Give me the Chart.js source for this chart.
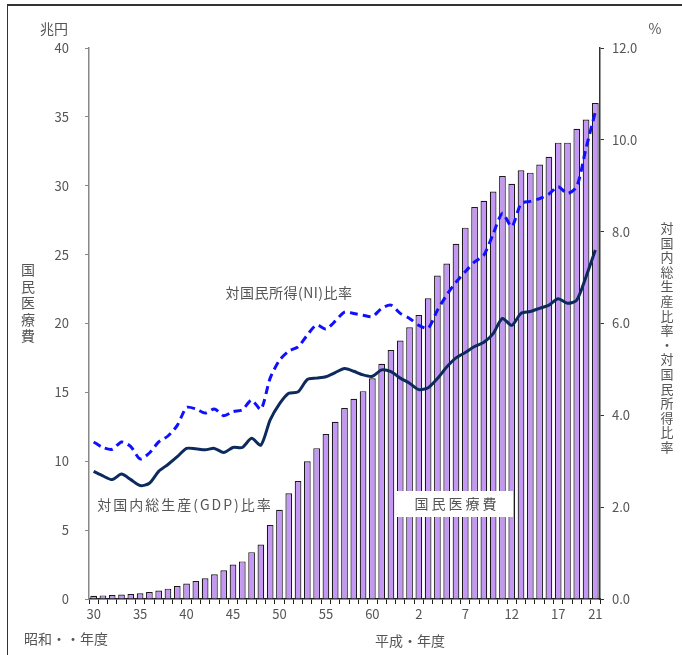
<!DOCTYPE html>
<html lang="ja">
<head>
<meta charset="utf-8">
<script src="https://cdn.jsdelivr.net/npm/chart.js@4.4.0/dist/chart.umd.min.js"></script>
<style>
  body { margin: 0; background: #fff; }
  #wrap { position: relative; width: 682px; height: 655px; }
  #frame { position: absolute; left: 7px; top: 4px; width: 700px; height: 700px;
           border-top: 2px solid #333; border-left: 1px solid #333; }
  canvas { position: absolute; left: 0; top: 0; }
</style>
</head>
<body>
<div id="wrap">
  <div id="frame"></div>
  <canvas id="chart-iryohi" width="682" height="655"></canvas>
</div>
<script>
// 年度: 昭和30〜63, 平成1〜21
var years = [];
for (var s = 30; s <= 63; s++) years.push(String(s));
for (var h = 1; h <= 21; h++) years.push(String(h));

var shownYears = ["30", "35", "40", "45", "50", "55", "60", "2", "7", "12", "17", "21"];

// 国民医療費 (兆円)
var iryohi = [0.24, 0.26, 0.29, 0.32, 0.36, 0.41, 0.51, 0.61, 0.75, 0.94,
  1.12, 1.30, 1.51, 1.80, 2.08, 2.50, 2.73, 3.40, 3.95, 5.38,
  6.48, 7.67, 8.57, 10.00, 10.95, 11.98, 12.87, 13.87, 14.54, 15.09,
  16.02, 17.07, 18.08, 18.76, 19.73, 20.61, 21.83, 23.48, 24.36, 25.79,
  26.96, 28.45, 28.91, 29.58, 30.70, 30.14, 31.12, 30.95, 31.54, 32.11,
  33.13, 33.13, 34.14, 34.81, 36.01];

// 対国民所得(NI)比率 (%)
var niRatio = [3.42, 3.30, 3.26, 3.42, 3.32, 3.05, 3.18, 3.42, 3.55, 3.78,
  4.17, 4.14, 4.05, 4.14, 3.99, 4.08, 4.12, 4.33, 4.13, 4.81,
  5.20, 5.40, 5.49, 5.75, 5.97, 5.88, 6.05, 6.25, 6.22, 6.18,
  6.15, 6.33, 6.40, 6.22, 6.11, 5.96, 5.90, 6.29, 6.62, 6.90,
  7.13, 7.34, 7.49, 7.95, 8.40, 8.11, 8.61, 8.66, 8.72, 8.82,
  8.98, 8.83, 8.98, 9.82, 10.61];

// 対国内総生産(GDP)比率 (%)
var gdpRatio = [2.78, 2.68, 2.60, 2.72, 2.60, 2.47, 2.52, 2.78, 2.93, 3.10,
  3.28, 3.27, 3.25, 3.28, 3.19, 3.30, 3.30, 3.50, 3.35, 3.90,
  4.25, 4.48, 4.51, 4.78, 4.81, 4.84, 4.93, 5.02, 4.96, 4.88,
  4.85, 4.99, 4.95, 4.81, 4.70, 4.56, 4.60, 4.80, 5.05, 5.25,
  5.37, 5.50, 5.59, 5.78, 6.11, 5.96, 6.22, 6.26, 6.33, 6.40,
  6.54, 6.44, 6.51, 7.02, 7.60];

var jpFont = "'Noto Sans CJK JP', 'Noto Sans', sans-serif";
var textGrey = "#555";

function vText(ctx, str, x, y, step) {
  for (var i = 0; i < str.length; i++) {
    ctx.fillText(str[i], x, y + i * step);
  }
}

var labelsPlugin = {
  id: "labels",
  afterDatasetsDraw: function (chart) {
    var ctx = chart.ctx;
    ctx.save();
    // white box for 国民医療費
    ctx.fillStyle = "#fff";
    ctx.fillRect(397, 491, 116, 26);
    ctx.fillStyle = textGrey;
    ctx.textAlign = "center";
    ctx.textBaseline = "middle";
    ctx.font = "14px " + jpFont;
    ctx.letterSpacing = "3px";
    ctx.fillText("国民医療費", 457, 504);
    ctx.letterSpacing = "0.5px";
    ctx.fillText("対国民所得(NI)比率", 289, 293);
    ctx.letterSpacing = "2px";
    ctx.fillText("対国内総生産(GDP)比率", 185, 505);
    ctx.restore();
  },
  afterDraw: function (chart) {
    var ctx = chart.ctx;
    ctx.save();
    ctx.fillStyle = textGrey;
    ctx.textAlign = "center";
    ctx.textBaseline = "middle";
    ctx.font = "14px " + jpFont;
    ctx.fillText("兆円", 54, 29);
    ctx.fillText("%", 655, 29);
    vText(ctx, "国民医療費", 28, 270, 16.5);
    ctx.font = "13px " + jpFont;
    vText(ctx, "対国内総生産比率・対国民所得比率", 667, 228, 14.6);
    ctx.font = "14px " + jpFont;
    ctx.textAlign = "left";
    ctx.fillText("昭和・・年度", 24, 639);
    ctx.fillText("平成・年度", 375, 641);
    ctx.restore();
  }
};

new Chart("chart-iryohi", {
  type: "bar",
  data: {
    labels: years,
    datasets: [{
      type: "line",
      label: "対国民所得(NI)比率",
      data: niRatio,
      yAxisID: "y2",
      borderColor: "#1010ff",
      borderWidth: 3,
      borderDash: [8, 5],
      pointRadius: 0,
      tension: 0.25,
      order: 1
    }, {
      type: "line",
      label: "対国内総生産(GDP)比率",
      data: gdpRatio,
      yAxisID: "y2",
      borderColor: "#0c2a5e",
      borderWidth: 3,
      pointRadius: 0,
      tension: 0.25,
      order: 1
    }, {
      label: "国民医療費",
      data: iryohi,
      yAxisID: "y",
      backgroundColor: "#c497f4",
      borderColor: "#1a1a1a",
      borderWidth: 1.2,
      barPercentage: 0.72,
      categoryPercentage: 1.0,
      order: 2
    }]
  },
  options: {
    responsive: false,
    animation: false,
    layout: { padding: { top: 48, left: 0, right: 0, bottom: 0 } },
    plugins: {
      legend: { display: false },
      tooltip: { enabled: false }
    },
    scales: {
      x: {
        grid: { offset: true, drawOnChartArea: false, tickLength: 5, color: "#222" },
        border: { color: "#222", width: 1.5 },
        ticks: {
          autoSkip: false, maxRotation: 0, padding: 2,
          color: textGrey, font: { size: 13, family: jpFont },
          callback: function (v, i) {
            var lab = years[i];
            return shownYears.indexOf(lab) >= 0 ? lab : "";
          }
        },
        afterFit: function (s) { s.height = 56; }
      },
      y: {
        position: "left",
        min: 0, max: 40,
        grid: { drawOnChartArea: false, tickLength: 4, color: "#888" },
        border: { color: "#888", width: 1.5 },
        ticks: { stepSize: 5, padding: 16, color: textGrey, font: { size: 13, family: jpFont } },
        afterFit: function (s) { s.width = 89; }
      },
      y2: {
        position: "right",
        min: 0, max: 12,
        grid: { drawOnChartArea: false, tickLength: 4, color: "#333" },
        border: { color: "#333", width: 1.5 },
        ticks: {
          stepSize: 2, padding: 8, color: textGrey, font: { size: 13, family: jpFont },
          callback: function (v) { return v.toFixed(1); }
        },
        afterFit: function (s) { s.width = 82; }
      }
    }
  },
  plugins: [labelsPlugin]
});
</script>
</body>
</html>
